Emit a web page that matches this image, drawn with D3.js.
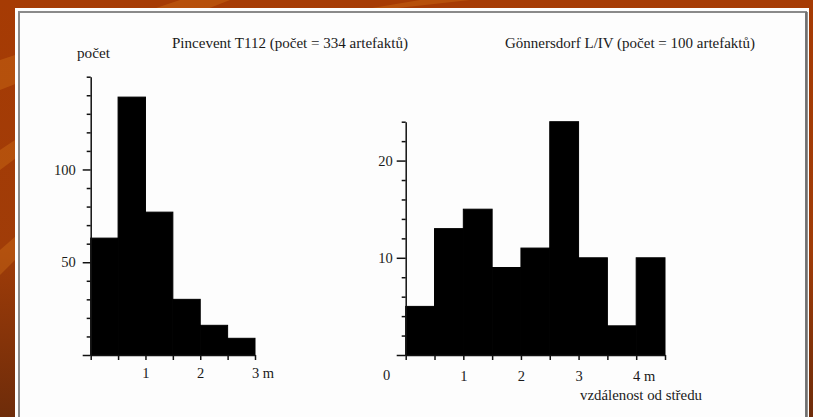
<!DOCTYPE html>
<html>
<head>
<meta charset="utf-8">
<script src="https://cdn.jsdelivr.net/npm/d3@7"></script>
<style>
  body { margin: 0; background: #a23a05; }
  svg { display: block; }
  .axis path, .axis line { stroke: #111; stroke-width: 1.5; }
  .axis text { font-family: "Liberation Serif", "DejaVu Serif", serif; font-size: 14.5px; fill: #1a1a1a; }
  .label { font-family: "Liberation Serif", "DejaVu Serif", serif; fill: #1a1a1a; }
</style>
</head>
<body>
<div id="chart"></div>
<script>
// data (0.5 m bins)
const pinceventBinStarts = [0, 0.5, 1, 1.5, 2, 2.5];
const pinceventCounts = [63, 139, 77, 30, 16, 9];
const pinceventYLabels = [50, 100];
const pinceventXLabels = [1, 2, 3];

const gonnersdorfBinStarts = [0, 0.5, 1, 1.5, 2, 2.5, 3, 3.5, 4];
const gonnersdorfCounts = [5, 13, 15, 9, 11, 24, 10, 3, 10];
const gonnersdorfYLabels = [10, 20];
const gonnersdorfXLabels = [1, 2, 3, 4];

const binWidth = 0.5;
const width = 813;
const height = 417;

const svg = d3.select("#chart").append("svg")
  .attr("width", width)
  .attr("height", height);

// slide background
const defs = svg.append("defs");
const bg = defs.append("linearGradient").attr("id", "bg")
  .attr("x1", 0).attr("y1", 0).attr("x2", 0).attr("y2", 1);
bg.append("stop").attr("offset", 0).attr("stop-color", "#a63b04");
bg.append("stop").attr("offset", 0.6).attr("stop-color", "#a03c08");
bg.append("stop").attr("offset", 1).attr("stop-color", "#6e2c0a");
svg.append("rect").attr("width", width).attr("height", height).attr("fill", "url(#bg)");

// lighter streaks
const streaks = [
  "M0,60 L180,0 L230,0 L0,90 Z",
  "M0,150 L60,110 L60,125 L0,170 Z",
  "M0,250 L40,215 L40,235 L0,275 Z",
  "M360,10 L420,0 L470,0 L380,10 Z"
];
svg.selectAll(".streak").data(streaks).join("path")
  .attr("class", "streak")
  .attr("d", (d) => d)
  .attr("fill", "#d6771a")
  .attr("opacity", 0.35);

// white sheet with its frame
svg.append("rect").attr("x", 15).attr("y", 8).attr("width", 794).attr("height", 420).attr("fill", "#fdfdfd");
svg.append("rect").attr("x", 19).attr("y", 12).attr("width", 787).attr("height", 420)
  .attr("fill", "none").attr("stroke", "#8a8a8a").attr("stroke-width", 2);
svg.append("line").attr("x1", 806.5).attr("x2", 806.5).attr("y1", 12).attr("y2", height)
  .attr("stroke", "#6f6f6f").attr("stroke-width", 2.5);

function drawHistogram({ binStarts, counts, yLabels, xLabels, xMax, yMax, yStep,
                         xRange, yRange, yMajorLen, yPad, xPad }) {
  const x = d3.scaleLinear().domain([0, xMax]).range(xRange);
  const y = d3.scaleLinear().domain([0, yMax]).range(yRange);
  const g = svg.append("g");

  g.selectAll(".bar")
    .data(binStarts.map((s, i) => ({ start: s, value: counts[i] })))
    .join("rect")
    .attr("class", "bar")
    .attr("x", (d) => x(d.start))
    .attr("width", (d) => x(d.start + binWidth) - x(d.start))
    .attr("y", (d) => y(d.value))
    .attr("height", (d) => y(0) - y(d.value))
    .attr("fill", "#000")
    .attr("stroke", "#000")
    .attr("stroke-width", 1);

  const yAxis = g.append("g")
    .attr("class", "axis")
    .attr("transform", `translate(${xRange[0]},0)`)
    .call(d3.axisLeft(y)
      .tickValues(d3.range(0, yMax + 0.001, yStep))
      .tickSize(4)
      .tickSizeOuter(0)
      .tickPadding(yPad)
      .tickFormat((d) => (yLabels.includes(d) ? d : "")));
  yAxis.selectAll(".tick line")
    .attr("x2", (d) => (yLabels.includes(d) || d === 0 ? -yMajorLen : -4));

  const last = xLabels[xLabels.length - 1];
  const xAxis = g.append("g")
    .attr("class", "axis")
    .attr("transform", `translate(0,${yRange[0]})`)
    .call(d3.axisBottom(x)
      .tickValues(d3.range(0, xMax + 0.001, binWidth))
      .tickSize(5)
      .tickSizeOuter(0)
      .tickPadding(xPad)
      .tickFormat((d) => (xLabels.includes(d) ? (d === last ? d + " m" : d) : "")));
  xAxis.selectAll(".tick text")
    .filter((d) => d === last)
    .attr("text-anchor", "start")
    .attr("dx", "-0.25em");
  return { x, y };
}

drawHistogram({
  binStarts: pinceventBinStarts,
  counts: pinceventCounts,
  yLabels: pinceventYLabels,
  xLabels: pinceventXLabels,
  xMax: 3, yMax: 150, yStep: 10,
  xRange: [90.7, 255], yRange: [355, 76.7],
  yMajorLen: 8, yPad: 11, xPad: 8
});

const right = drawHistogram({
  binStarts: gonnersdorfBinStarts,
  counts: gonnersdorfCounts,
  yLabels: gonnersdorfYLabels,
  xLabels: gonnersdorfXLabels,
  xMax: 4.5, yMax: 24, yStep: 2,
  xRange: [405.7, 665], yRange: [355, 121.7],
  yMajorLen: 9, yPad: 9, xPad: 11
});

// zero at the corner of the right chart
svg.append("text").attr("class", "label")
  .attr("x", right.x(0) - 19).attr("y", 380)
  .attr("text-anchor", "middle").attr("font-size", 14.5)
  .text("0");

svg.append("text").attr("class", "label")
  .attr("x", 77).attr("y", 58).attr("font-size", 15)
  .attr("textLength", 33).attr("lengthAdjust", "spacingAndGlyphs")
  .text("počet");

svg.append("text").attr("class", "label")
  .attr("x", 172).attr("y", 48).attr("font-size", 15)
  .attr("textLength", 236).attr("lengthAdjust", "spacingAndGlyphs")
  .text("Pincevent T112 (počet = 334 artefaktů)");

svg.append("text").attr("class", "label")
  .attr("x", 505).attr("y", 48).attr("font-size", 15)
  .attr("textLength", 250).attr("lengthAdjust", "spacingAndGlyphs")
  .text("Gönnersdorf L/IV (počet = 100 artefaktů)");

svg.append("text").attr("class", "label")
  .attr("x", 580).attr("y", 400).attr("font-size", 14.5)
  .attr("textLength", 122).attr("lengthAdjust", "spacingAndGlyphs")
  .text("vzdálenost od středu");
</script>
</body>
</html>
